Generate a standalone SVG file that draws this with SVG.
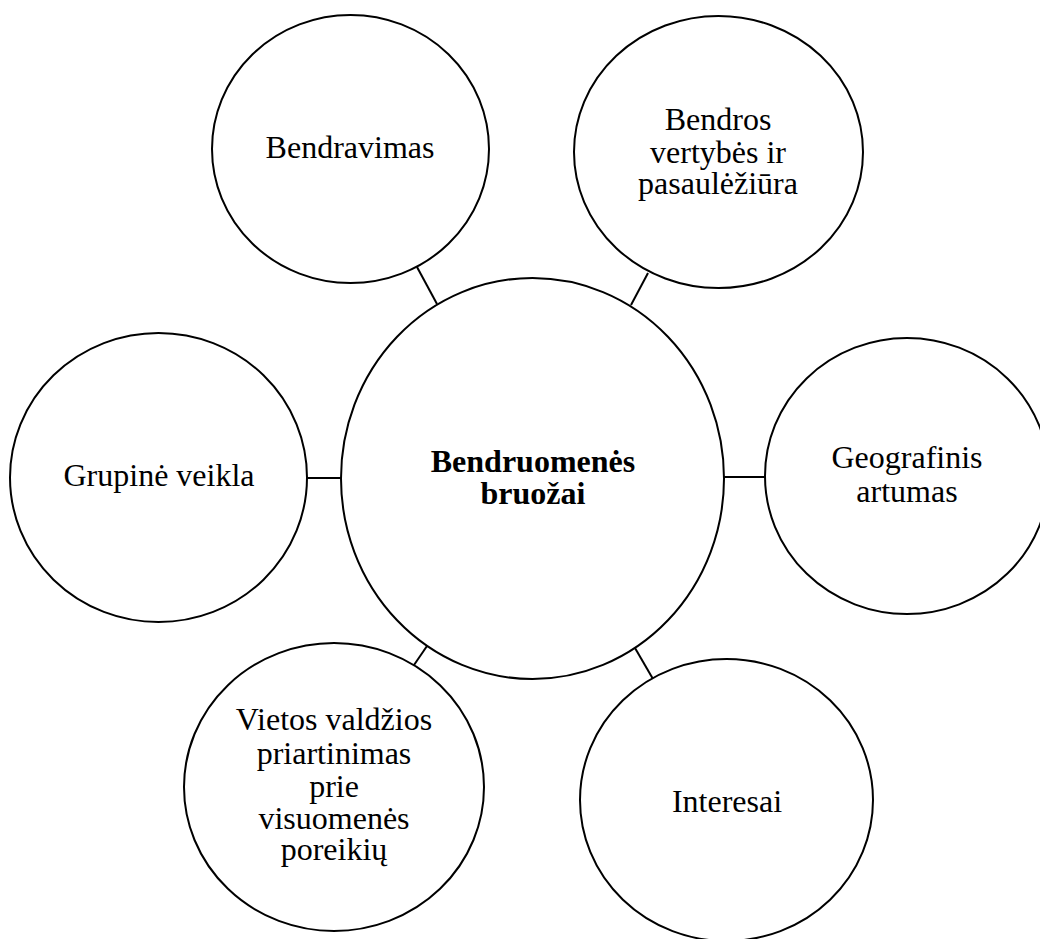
<svg xmlns="http://www.w3.org/2000/svg" width="1040" height="939" viewBox="0 0 1040 939">
  <style>
    .node { fill: #ffffff; stroke: #000000; stroke-width: 2; }
    .link { stroke: #000000; stroke-width: 2; fill: none; }
    .label { font-family: 'Liberation Serif', Tinos, 'Times New Roman', 'DejaVu Serif', serif; font-size: 32px; fill: #000000; text-anchor: middle; }
    .title { font-weight: bold; }
  </style>
  <rect width="1040" height="939" fill="#ffffff"/>

  <g id="connectors">
    <line class="link" x1="417" y1="267" x2="437" y2="304"/>
    <line class="link" x1="648" y1="273" x2="631" y2="305"/>
    <line class="link" x1="307" y1="478" x2="341" y2="478"/>
    <line class="link" x1="724" y1="477" x2="765" y2="477"/>
    <line class="link" x1="427" y1="646" x2="414" y2="665"/>
    <line class="link" x1="635" y1="648" x2="653" y2="679"/>
  </g>

  <g id="center">
    <ellipse class="node" cx="532.5" cy="478.5" rx="191.5" ry="200.5"/>
    <text class="label title" x="533" y="472" font-family="Liberation Serif, serif">Bendruomenės</text>
    <text class="label title" x="533" y="504" font-family="Liberation Serif, serif">bruožai</text>
  </g>

  <g id="bendravimas">
    <ellipse class="node" cx="350.5" cy="149" rx="138.5" ry="134"/>
    <text class="label" x="350" y="158">Bendravimas</text>
  </g>

  <g id="bendros-vertybes">
    <ellipse class="node" cx="718.5" cy="152" rx="144.5" ry="136"/>
    <text class="label" x="718" y="130">Bendros</text>
    <text class="label" x="718" y="163">vertybės ir</text>
    <text class="label" x="718" y="194">pasaulėžiūra</text>
  </g>

  <g id="grupine-veikla">
    <ellipse class="node" cx="158.5" cy="477.5" rx="148.5" ry="144.5"/>
    <text class="label" x="159" y="486">Grupinė veikla</text>
  </g>

  <g id="geografinis-artumas">
    <ellipse class="node" cx="907" cy="476" rx="142" ry="138"/>
    <text class="label" x="907" y="468">Geografinis</text>
    <text class="label" x="907" y="502">artumas</text>
  </g>

  <g id="vietos-valdzia">
    <ellipse class="node" cx="334" cy="787" rx="150" ry="144"/>
    <text class="label" x="334" y="730">Vietos valdžios</text>
    <text class="label" x="334" y="764">priartinimas</text>
    <text class="label" x="334" y="797">prie</text>
    <text class="label" x="334" y="829">visuomenės</text>
    <text class="label" x="334" y="860">poreikių</text>
  </g>

  <g id="interesai">
    <ellipse class="node" cx="726.5" cy="800" rx="146.5" ry="141"/>
    <text class="label" x="727" y="812">Interesai</text>
  </g>
</svg>
